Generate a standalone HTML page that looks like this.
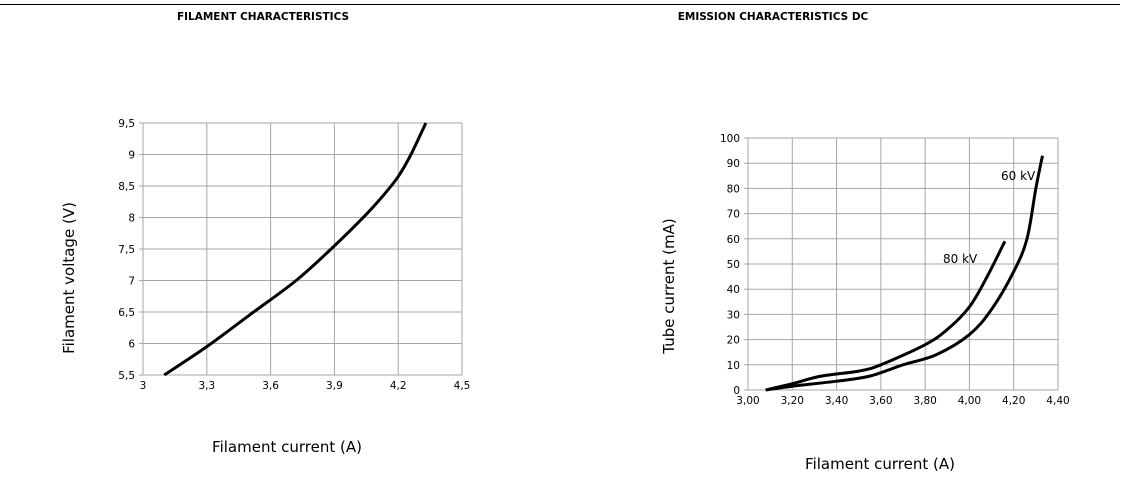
<!DOCTYPE html>
<html><head><meta charset="utf-8"><style>
html,body{margin:0;padding:0;background:#fff;}
svg{display:block;font-family:"DejaVu Sans","Liberation Sans",sans-serif;}
</style></head><body>
<svg id="s" width="1127" height="488" viewBox="0 0 1127 488" xmlns="http://www.w3.org/2000/svg">
<line x1="0" y1="4.5" x2="1120" y2="4.5" stroke="#000" stroke-width="1"/>
<text x="263" y="20" font-size="10.5" font-weight="bold" text-anchor="middle">FILAMENT CHARACTERISTICS</text>
<text x="773" y="20" font-size="10.5" font-weight="bold" text-anchor="middle">EMISSION CHARACTERISTICS DC</text>
<g id="g"></g>
<text transform="translate(74,278) rotate(-90)" font-size="15" text-anchor="middle">Filament voltage (V)</text>
<text x="287" y="452" font-size="15" text-anchor="middle">Filament current (A)</text>
<text transform="translate(674,286) rotate(-90)" font-size="15" text-anchor="middle">Tube current (mA)</text>
<text x="880" y="469" font-size="15" text-anchor="middle">Filament current (A)</text>
<text x="1001" y="180" font-size="12">60 kV</text>
<text x="943" y="263" font-size="12">80 kV</text>
</svg>
<script>
var g=document.getElementById('g'),NS='http://www.w3.org/2000/svg';
function el(t,a,txt){var e=document.createElementNS(NS,t);for(var k in a)e.setAttribute(k,a[k]);if(txt)e.textContent=txt;g.appendChild(e);return e;}
function chart(L,R,T,B,nx,ny,xl,yl){
 for(var i=0;i<=nx;i++){var x=L+(R-L)*i/nx;el('line',{x1:x,y1:T,x2:x,y2:B,stroke:'#a6a6a6','stroke-width':1});
  el('text',{x:x,y:B+14,'font-size':10.5,'text-anchor':'middle'},xl[i]);}
 for(var j=0;j<=ny;j++){var y=B-(B-T)*j/ny;el('line',{x1:L-4,y1:y,x2:R,y2:y,stroke:'#a6a6a6','stroke-width':1});
  el('text',{x:L-8,y:y+4,'font-size':10.5,'text-anchor':'end'},yl[j]);}
}
function curve(pts,fx,fy){
 var P=pts.map(function(p){return [fx(p[0]),fy(p[1])]});
 var d='M'+P[0][0]+','+P[0][1];
 for(var i=0;i<P.length-1;i++){var p0=P[i-1]||P[i],p1=P[i],p2=P[i+1],p3=P[i+2]||p2;
  d+=' C'+(p1[0]+(p2[0]-p0[0])/6)+','+(p1[1]+(p2[1]-p0[1])/6)+' '+(p2[0]-(p3[0]-p1[0])/6)+','+(p2[1]-(p3[1]-p1[1])/6)+' '+p2[0]+','+p2[1];}
 el('path',{d:d,fill:'none',stroke:'#000','stroke-width':3});
}
chart(143,462,123,375,5,8,['3','3,3','3,6','3,9','4,2','4,5'],['5,5','6','6,5','7','7,5','8','8,5','9','9,5']);
curve([[3.1,5.5],[3.3,5.95],[3.5,6.45],[3.72,7.0],[3.9,7.55],[4.05,8.05],[4.13,8.35],[4.2,8.65],[4.26,9.0],[4.33,9.5]],
 function(x){return 143+(x-3)/1.5*319},function(v){return 375-(v-5.5)/4*252});
chart(748,1058,138,390,7,10,['3,00','3,20','3,40','3,60','3,80','4,00','4,20','4,40'],['0','10','20','30','40','50','60','70','80','90','100']);
var fx=function(x){return 748+(x-3)/1.4*310},fy=function(v){return 390-v*2.52};
curve([[3.08,0],[3.2,2.5],[3.33,5.5],[3.5,7.5],[3.6,10],[3.8,18],[3.9,24],[4.0,33],[4.08,45],[4.16,59]],fx,fy);
curve([[3.08,0],[3.2,1.5],[3.4,3.5],[3.55,5.5],[3.7,10],[3.85,14],[4.0,22],[4.1,32],[4.2,47],[4.26,60],[4.3,80],[4.33,93]],fx,fy);
</script>
</body></html>
